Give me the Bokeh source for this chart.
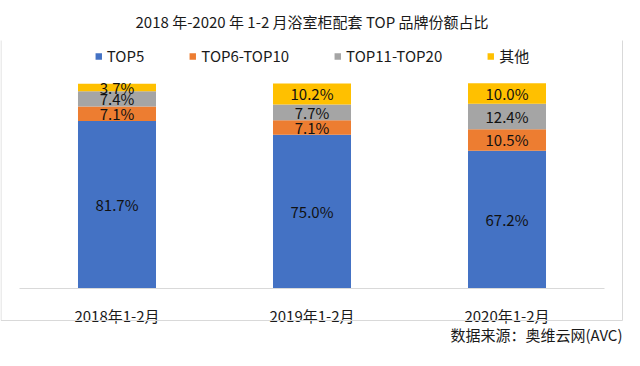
from bokeh.plotting import figure
from bokeh.models import (ColumnDataSource, FactorRange, Range1d, Legend, LegendItem,
                          BoxAnnotation, Label)
from bokeh.core.properties import value
from bokeh.embed import file_html
from bokeh.resources import INLINE

categories = ["2018年1-2月", "2019年1-2月", "2020年1-2月"]
series_names = ["TOP5", "TOP6-TOP10", "TOP11-TOP20", "其他"]
top5 = [81.7, 75.0, 67.2]
top6_10 = [7.1, 7.1, 10.5]
top11_20 = [7.4, 7.7, 12.4]
others = [3.7, 10.2, 10.0]
colors = ["#4472C4", "#ED7D31", "#A5A5A5", "#FFC000"]

FONT = "Noto Sans CJK SC"

series_values = [top5, top6_10, top11_20, others]
src = ColumnDataSource(data={"cat": categories,
                             **{n: v for n, v in zip(series_names, series_values)}})

# label positions (segment centres) computed from the data
lx, ly, lt = [], [], []
for i, c in enumerate(categories):
    base = 0.0
    for vals in series_values:
        v = vals[i]
        lx.append(c)
        ly.append(base + v / 2)
        lt.append(f"{v:.1f}%")
        base += v
lsrc = ColumnDataSource(data={"x": lx, "y": ly, "text": lt})

p = figure(width=624, height=350,
           x_range=FactorRange(*categories, range_padding=0.0974, range_padding_units="absolute"),
           y_range=Range1d(-30.24, 120.98), output_backend="svg", toolbar_location=None,
           min_border_left=0, min_border_right=1, min_border_top=0, min_border_bottom=0)
p.outline_line_color = None
p.grid.visible = False
p.yaxis.visible = False
p.background_fill_color = "white"
p.border_fill_color = "white"

p.xaxis.fixed_location = 0
p.xaxis.bounds = (0, 3)
p.xaxis.axis_line_color = "#d9d9d9"
p.xaxis.axis_line_width = 1
p.xaxis.major_tick_line_color = None
p.xaxis.minor_tick_line_color = None
p.xaxis.major_tick_out = 0
p.xaxis.major_tick_in = 0
p.xaxis.minor_tick_out = 0
p.xaxis.major_label_text_font = FONT
p.xaxis.major_label_text_font_size = "15px"
p.xaxis.major_label_text_color = "#1a1a1a"
p.xaxis.major_label_standoff = 16

renderers = p.vbar_stack(series_names, x="cat", width=0.4, color=colors, line_color=None,
                         source=src)

p.text(x="x", y="y", text="text", source=lsrc, text_align="center", text_baseline="middle",
       text_font=value(FONT), text_font_size="15px", text_color="#111111")

legend = Legend(items=[LegendItem(label=n, renderers=[r]) for n, r in zip(series_names, renderers)],
                location="top_center", orientation="horizontal", glyph_width=8, glyph_height=8,
                label_standoff=5, spacing=44, padding=0, margin=5,
                label_text_font=FONT, label_text_font_size="15px", label_text_color="#1a1a1a",
                border_line_color=None, background_fill_alpha=0)
p.add_layout(legend, "center")

# chart-area border
box = BoxAnnotation(left=0.5, right=622, top=32.5, bottom=320,
                    left_units="canvas", right_units="canvas",
                    top_units="canvas", bottom_units="canvas",
                    fill_alpha=0, line_color="#d9d9d9", line_alpha=1, line_width=1)
p.add_layout(box)

p.title.text = "2018 年-2020 年 1-2 月浴室柜配套 TOP 品牌份额占比"
p.title.align = "center"
p.title.text_font = FONT
p.title.text_font_size = "15px"
p.title.text_font_style = "normal"
p.title.text_color = "#1a1a1a"
p.title.standoff = 17

source_label = Label(x=622, y=334, x_units="canvas", y_units="canvas",
                     text="数据来源：奥维云网(AVC)", text_align="right", text_baseline="middle",
                     text_font=FONT, text_font_size="15px", text_color="#1a1a1a")
p.add_layout(source_label)

open("out.html", "w").write(file_html(p, INLINE))
